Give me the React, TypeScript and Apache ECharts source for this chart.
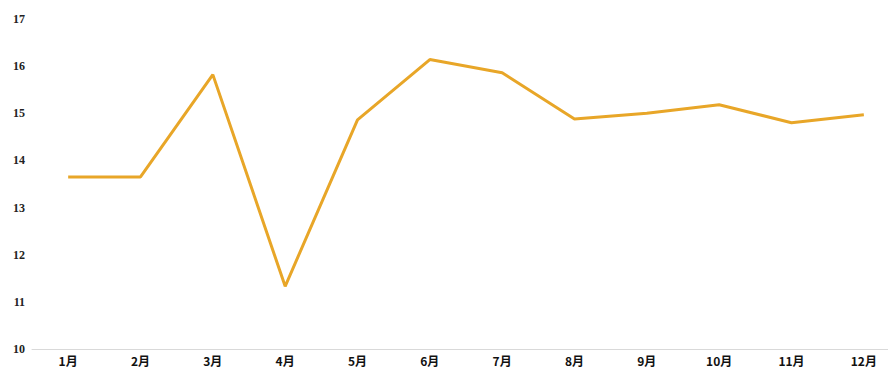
import React, { useEffect, useRef } from "react";
import * as echarts from "echarts";

const months = ["1月", "2月", "3月", "4月", "5月", "6月", "7月", "8月", "9月", "10月", "11月", "12月"];
const values = [13.65, 13.65, 15.82, 11.33, 14.86, 16.14, 15.86, 14.88, 15.0, 15.18, 14.8, 14.97];

export default function App() {
  const ref = useRef<HTMLDivElement>(null);
  useEffect(() => {
    document.body.style.margin = "0";
    const chart = echarts.init(ref.current!, null, { renderer: "svg" });
    chart.setOption({
      animation: false,
      backgroundColor: "#ffffff",
      grid: { left: 32, right: 0, top: 19, bottom: 21, containLabel: false },
      xAxis: {
        type: "category",
        data: months,
        boundaryGap: true,
        axisLine: { show: true, lineStyle: { color: "#d9d9d9", width: 1 } },
        axisTick: { show: false },
        axisLabel: {
          color: "#111",
          fontWeight: "bold",
          fontSize: 12,
          fontFamily: "Noto Sans CJK SC",
          margin: 5,
          interval: 0,
        },
        splitLine: { show: false },
      },
      yAxis: {
        type: "value",
        min: 10,
        max: 17,
        interval: 1,
        axisLine: { show: false },
        axisTick: { show: false },
        splitLine: { show: false },
        axisLabel: {
          color: "#222",
          fontWeight: "bold",
          fontSize: 12,
          fontFamily: "Liberation Serif",
          margin: 7,
        },
      },
      series: [
        {
          type: "line",
          data: values,
          symbol: "none",
          lineStyle: { color: "#E8A628", width: 3 },
          itemStyle: { color: "#E8A628" },
        },
      ],
    });
    return () => chart.dispose();
  }, []);
  return (
    <div style={{ width: 888, height: 370, overflow: "hidden" }}>
      <div ref={ref} style={{ width: 900, height: 370 }} />
    </div>
  );
}
